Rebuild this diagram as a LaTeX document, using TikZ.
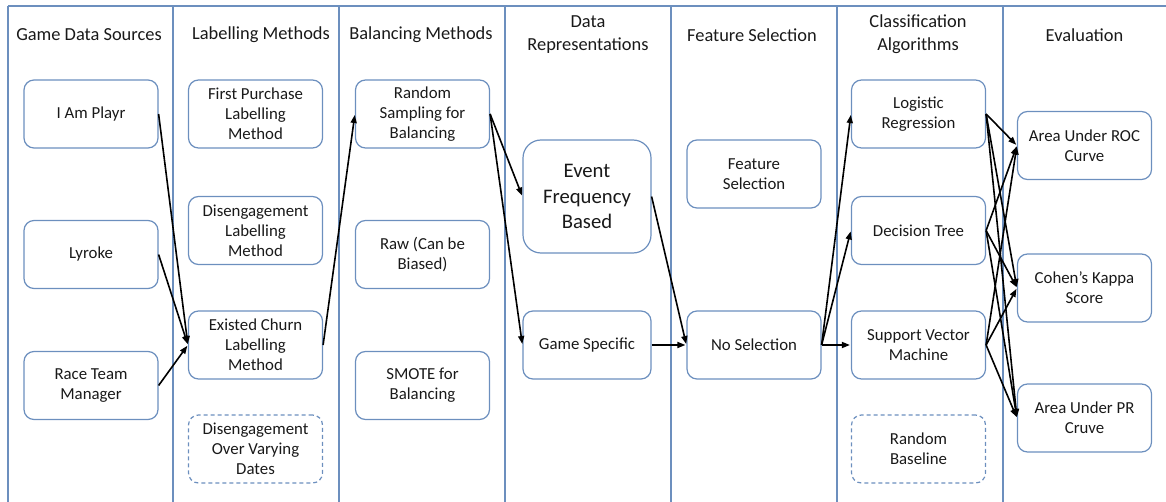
\documentclass[tikz,border=0pt]{standalone}
\usepackage{fontspec}
\setmainfont{Carlito}
\usetikzlibrary{arrows.meta}
\definecolor{frame}{RGB}{108,143,190}
\definecolor{ink}{RGB}{25,25,25}
\tikzset{
  box/.style={draw=frame, line width=1.2pt, rounded corners=10pt,
    minimum width=134pt, minimum height=68pt, align=center, text=ink,
    font=\fontsize{16.8}{20}\selectfont, inner sep=2pt},
  dashbox/.style={box, dash pattern=on 4pt off 3pt},
  head/.style={align=center, text=ink, font=\fontsize{18.4}{23}\selectfont},
  rule/.style={draw=frame, line width=1.2pt},
  flow/.style={draw=black, line width=1.6pt, -{Triangle[length=8pt,width=6pt]}, shorten >=1pt}
}
\begin{document}
\begin{tikzpicture}[x=1pt, y=-1pt]
\useasboundingbox (0,0) rectangle (1166,502);

% column frame
\draw[rule] (8,6) -- (1166,6);
\foreach \xx in {8,173,339,505,671,837,1003}
  \draw[rule] (\xx,6) -- (\xx,502);

% column headings
\node[head] (h1) at (89,35) {Game Data Sources};
\node[head] (h2) at (261,35) {Labelling Methods};
\node[head] (h3) at (421,35) {Balancing Methods};
\node[head] (h4) at (588,34.5) {Data\\Representations};
\node[head] (h5) at (752,35) {Feature Selection};
\node[head] (h6) at (918,34.5) {Classification\\Algorithms};
\node[head] (h7) at (1084.5,35) {Evaluation};

% game data sources
\node[box] (iap) at (91,114) {I Am Playr};
\node[box] (lyr) at (91,254.5) {Lyroke};
\node[box] (rtm) at (91,385.5) {Race Team\\Manager};

% labelling methods
\node[box] (fp)  at (255.5,114) {First Purchase\\Labelling\\Method};
\node[box] (dis) at (255.5,230.5) {Disengagement\\Labelling\\Method};
\node[box] (ec)  at (255.5,345) {Existed Churn\\Labelling\\Method};
\node[dashbox] (dvd) at (255.5,449) {Disengagement\\Over Varying\\Dates};

% balancing methods
\node[box] (rs)  at (422.5,114) {Random\\Sampling for\\Balancing};
\node[box] (raw) at (422.5,254.5) {Raw (Can be\\Biased)};
\node[box] (sm)  at (422.5,385.5) {SMOTE for\\Balancing};

% data representations
\node[box, minimum width=128pt, minimum height=113pt, rounded corners=18pt,
      font=\fontsize{20.7}{25.5}\selectfont] (efb) at (587,196.5) {Event\\Frequency\\Based};
\node[box, minimum width=128pt] (gs) at (587,345) {Game Specific};

% feature selection
\node[box] (fs) at (754,174) {Feature\\Selection};
\node[box] (ns) at (754,345) {No Selection};

% classification algorithms
\node[box] (lr)  at (918.5,114) {Logistic\\Regression};
\node[box] (dt)  at (918.5,230.5) {Decision Tree};
\node[box] (svm) at (918.5,345) {Support Vector\\Machine};
\node[dashbox] (rb) at (918.5,449) {Random\\Baseline};

% evaluation
\node[box] (roc) at (1084.5,145.5) {Area Under ROC\\Curve};
\node[box] (ck)  at (1084.5,288) {Cohen’s Kappa\\Score};
\node[box] (pr)  at (1084.5,418) {Area Under PR\\Cruve};

% pipeline connectors
\draw[flow] (iap.east) -- (ec.west);
\draw[flow] (lyr.east) -- (ec.west);
\draw[flow] (rtm.east) -- (ec.west);
\draw[flow] (ec.east) -- (rs.west);
\draw[flow] (rs.east) -- (efb.west);
\draw[flow] (rs.east) -- (gs.west);
\draw[flow] (efb.east) -- (ns.west);
\draw[flow] (gs.east) -- (ns.west);
\draw[flow] (ns.east) -- (lr.west);
\draw[flow] (ns.east) -- (dt.west);
\draw[flow] (ns.east) -- (svm.west);
\foreach \c in {lr,dt,svm}
  \foreach \e in {roc,ck,pr}
    \draw[flow] (\c.east) -- (\e.west);
\end{tikzpicture}
\end{document}
